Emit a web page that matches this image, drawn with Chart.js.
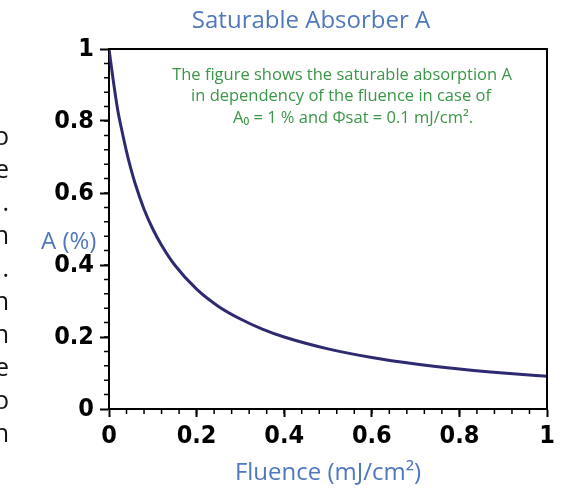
<!DOCTYPE html>
<html>
<head>
<meta charset="utf-8">
<script src="https://cdn.jsdelivr.net/npm/chart.js@4.4.1/dist/chart.umd.min.js"></script>
<style>
  html, body { margin: 0; padding: 0; background: #fff; }
  #wrap { width: 563px; height: 488px; position: relative; }
</style>
</head>
<body>
<div id="wrap"><canvas id="chart" width="563" height="488"></canvas></div>
<script>
// values
const fluence = [0, 0.01, 0.02, 0.03, 0.04, 0.05, 0.06, 0.08, 0.1, 0.12, 0.15, 0.2, 0.25, 0.3, 0.35, 0.4, 0.5, 0.6, 0.7, 0.8, 0.9, 1.0];
const absorption = [1.0, 0.91, 0.83, 0.77, 0.715, 0.667, 0.625, 0.555, 0.50, 0.455, 0.40, 0.333, 0.285, 0.25, 0.222, 0.20, 0.167, 0.143, 0.125, 0.111, 0.10, 0.091];
const xTicks = [0, 0.2, 0.4, 0.6, 0.8, 1];
const yTicks = [0, 0.2, 0.4, 0.6, 0.8, 1];
const minorStep = 0.04;

const titleText = "Saturable Absorber A";
const yTitle = "A (%)";
const xTitle = "Fluence (mJ/cm²)";
const note = [
  "The figure shows the saturable absorption A",
  "in dependency of the fluence in case of",
  "A₀ = 1 % and Φsat = 0.1 mJ/cm²."
];
// ends of lines from the text beside the figure, cut off at the left edge
const sideText = ["o", "e", ".", "n", ".", "n", "n", "e", "o", "n"];

const BLUE = "rgb(79,120,189)";
const GREEN = "rgb(58,150,72)";
const tickFont = { family: "'DejaVu Sans Condensed', 'DejaVu Sans', sans-serif", size: 25, weight: "bold" };
const fmt = v => String(Math.round(v * 10) / 10);

const extras = {
  id: "extras",
  afterDraw(chart) {
    const ctx = chart.ctx;
    const a = chart.chartArea;
    const xs = chart.scales.x, ys = chart.scales.y;
    ctx.save();

    // frame on top and right
    ctx.strokeStyle = "#000";
    ctx.lineWidth = 2;
    ctx.beginPath();
    ctx.moveTo(a.left, a.top);
    ctx.lineTo(a.right, a.top);
    ctx.lineTo(a.right, a.bottom);
    ctx.stroke();

    // minor ticks
    ctx.lineWidth = 1.5;
    ctx.beginPath();
    for (let v = minorStep; v < 1; v += minorStep) {
      const px = xs.getPixelForValue(v);
      ctx.moveTo(px, a.bottom);
      ctx.lineTo(px, a.bottom + 5);
      const py = ys.getPixelForValue(v);
      ctx.moveTo(a.left, py);
      ctx.lineTo(a.left - 5, py);
    }
    ctx.stroke();

    // title
    ctx.fillStyle = BLUE;
    ctx.textAlign = "center";
    ctx.textBaseline = "middle";
    ctx.font = "24px 'Open Sans', sans-serif";
    ctx.fillText(titleText, 311, 21);

    // y title, horizontal
    ctx.font = "24px 'Open Sans', sans-serif";
    ctx.textAlign = "left";
    ctx.fillText(yTitle, 41, 242);

    // note
    ctx.fillStyle = GREEN;
    ctx.textAlign = "center";
    ctx.font = "16.5px 'Open Sans', sans-serif";
    ctx.fillText(note[0], 342, 75);
    ctx.fillText(note[1], 341, 96);
    ctx.fillText(note[2], 353, 118);

    // cut off side text
    ctx.fillStyle = "#111";
    ctx.textAlign = "right";
    ctx.font = "25px 'Open Sans', sans-serif";
    sideText.forEach((t, i) => ctx.fillText(t, 9, 138 + i * 33));

    ctx.restore();
  }
};

new Chart(document.getElementById("chart"), {
  type: "line",
  data: {
    datasets: [{
      data: fluence.map((f, i) => ({ x: f, y: absorption[i] })),
      borderColor: "#2e2a72",
      borderWidth: 3,
      pointRadius: 0,
      fill: false,
      cubicInterpolationMode: "monotone"
    }]
  },
  options: {
    responsive: false,
    animation: false,
    layout: { padding: { top: 49, right: 16, left: 0, bottom: 0 } },
    plugins: { legend: { display: false }, tooltip: { enabled: false }, title: { display: false } },
    scales: {
      x: {
        type: "linear",
        min: 0,
        max: 1,
        afterFit: s => { s.height = 79; },
        afterBuildTicks: s => { s.ticks = xTicks.map(v => ({ value: v })); },
        border: { display: true, color: "#000", width: 2 },
        grid: { drawOnChartArea: false, drawTicks: true, tickLength: 8, tickColor: "#000", tickWidth: 2 },
        ticks: { color: "#000", font: tickFont, padding: 4, maxRotation: 0, autoSkip: false, callback: fmt },
        title: { display: true, text: xTitle, color: BLUE, font: { family: "'Open Sans', sans-serif", size: 24 }, padding: { top: 0, bottom: 0 } }
      },
      y: {
        min: 0,
        max: 1,
        afterFit: s => { s.width = 109; },
        afterBuildTicks: s => { s.ticks = yTicks.map(v => ({ value: v })); },
        border: { display: true, color: "#000", width: 2 },
        grid: { drawOnChartArea: false, drawTicks: true, tickLength: 9, tickColor: "#000", tickWidth: 2 },
        ticks: { color: "#000", font: tickFont, padding: 6, autoSkip: false, callback: fmt }
      }
    }
  },
  plugins: [extras]
});
</script>
</body>
</html>
